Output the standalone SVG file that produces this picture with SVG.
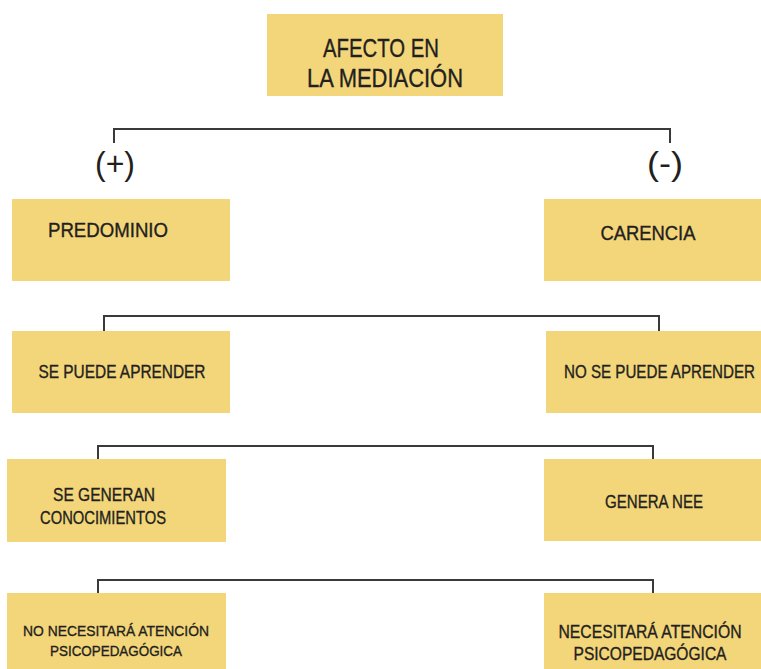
<svg xmlns="http://www.w3.org/2000/svg" width="761" height="669" viewBox="0 0 761 669">
<style>
.box{fill:#F3D67A}
.t{font-family:"Liberation Sans",Arial,sans-serif;fill:#231F20;stroke:#231F20;stroke-width:0.35;text-anchor:middle}
.p{font-family:"Liberation Sans",Arial,sans-serif;fill:#231F20;text-anchor:middle}
.conn{fill:none;stroke:#3a3a3a;stroke-width:2}
</style>
<rect width="761" height="669" fill="#ffffff"/>
<g id="connectors">
<path class="conn" d="M114,143 V129 H670 V143"/>
<path class="conn" d="M104,331 V316 H659 V331"/>
<path class="conn" d="M98,459 V446 H653 V459"/>
<path class="conn" d="M98,593 V580 H653 V593"/>
</g>
<g id="title">
<rect class="box" x="267" y="14" width="236" height="82"/>
<text class="t" x="381" y="57" font-size="26" textLength="116" lengthAdjust="spacingAndGlyphs">AFECTO EN</text>
<text class="t" x="385" y="87" font-size="26" textLength="156" lengthAdjust="spacingAndGlyphs">LA MEDIACIÓN</text>
</g>
<g id="plus"><text class="p" x="115" y="175" font-size="34" textLength="40" lengthAdjust="spacingAndGlyphs">(+)</text></g>
<g id="minus"><text class="p" x="665" y="175" font-size="34" textLength="36" lengthAdjust="spacingAndGlyphs">(-)</text></g>
<g id="predominio">
<rect class="box" x="12" y="199" width="218" height="82"/>
<text class="t" x="108" y="237" font-size="19.5" textLength="120" lengthAdjust="spacingAndGlyphs">PREDOMINIO</text>
</g>
<g id="carencia">
<rect class="box" x="544" y="199" width="217" height="82"/>
<text class="t" x="648" y="240" font-size="19.5" textLength="95" lengthAdjust="spacingAndGlyphs">CARENCIA</text>
</g>
<g id="se-puede">
<rect class="box" x="12" y="331" width="218" height="82"/>
<text class="t" x="122" y="377.5" font-size="17.5" textLength="167" lengthAdjust="spacingAndGlyphs">SE PUEDE APRENDER</text>
</g>
<g id="no-se-puede">
<rect class="box" x="546" y="331" width="215" height="82"/>
<text class="t" x="659.5" y="377.5" font-size="17.5" textLength="191" lengthAdjust="spacingAndGlyphs">NO SE PUEDE APRENDER</text>
</g>
<g id="se-generan">
<rect class="box" x="7" y="459" width="219" height="83"/>
<text class="t" x="104" y="501" font-size="18" textLength="102" lengthAdjust="spacingAndGlyphs">SE GENERAN</text>
<text class="t" x="103" y="523.5" font-size="18" textLength="126" lengthAdjust="spacingAndGlyphs">CONOCIMIENTOS</text>
</g>
<g id="genera-nee">
<rect class="box" x="544" y="459" width="217" height="82"/>
<text class="t" x="654" y="508" font-size="18" textLength="98" lengthAdjust="spacingAndGlyphs">GENERA NEE</text>
</g>
<g id="no-necesitara">
<rect class="box" x="7" y="593" width="219" height="76"/>
<text class="t" x="116" y="636" font-size="15.5" textLength="186" lengthAdjust="spacingAndGlyphs">NO NECESITARÁ ATENCIÓN</text>
<text class="t" x="116" y="655.5" font-size="15.5" textLength="132" lengthAdjust="spacingAndGlyphs">PSICOPEDAGÓGICA</text>
</g>
<g id="necesitara">
<rect class="box" x="544" y="593" width="217" height="76"/>
<text class="t" x="650" y="638" font-size="18" textLength="183" lengthAdjust="spacingAndGlyphs">NECESITARÁ ATENCIÓN</text>
<text class="t" x="650" y="659.5" font-size="18" textLength="153" lengthAdjust="spacingAndGlyphs">PSICOPEDAGÓGICA</text>
</g>
</svg>
